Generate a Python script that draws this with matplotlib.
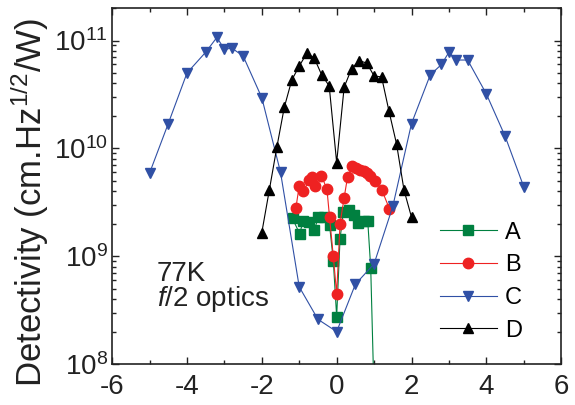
import matplotlib
matplotlib.use("Agg")
import matplotlib.pyplot as plt
from matplotlib.ticker import LogLocator, MultipleLocator, NullFormatter

plt.rcParams["font.family"] = ["Liberation Sans", "DejaVu Sans"]
plt.rcParams["mathtext.fontset"] = "custom"
plt.rcParams["mathtext.rm"] = "Liberation Sans"
plt.rcParams["mathtext.it"] = "Liberation Sans:italic"
plt.rcParams["axes.unicode_minus"] = False

# bias (V) vs detectivity
a_x = [-1.18, -0.99, -0.89, -0.75, -0.6, -0.49, -0.35, -0.19, -0.09, 0.0,
       0.09, 0.18, 0.32, 0.45, 0.58, 0.72, 0.83, 0.91, 1.0]
a_y = [2.24e9, 1.62e9, 2.14e9, 2.09e9, 1.74e9, 2.29e9, 2.29e9, 1.95e9, 9.1e8, 2.75e8,
       1.45e9, 2.57e9, 2.69e9, 2.4e9, 2.04e9, 2.14e9, 2.14e9, 7.8e8, 5e7]

b_x = [-1.09, -1.0, -0.89, -0.73, -0.66, -0.57, -0.41, -0.26, -0.19, -0.09, 0.0,
       0.09, 0.2, 0.29, 0.41, 0.52, 0.63, 0.72, 0.82, 0.9, 1.03, 1.21, 1.41]
b_y = [2.8e9, 4.5e9, 4.0e9, 5.1e9, 5.4e9, 4.5e9, 5.6e9, 4.2e9, 2.3e9, 1.0e9, 4.5e8,
       2.0e9, 3.5e9, 5.4e9, 6.8e9, 6.6e9, 6.3e9, 6.2e9, 5.9e9, 5.6e9, 5.0e9, 4.1e9, 2.75e9]

c_x = [-5.0, -4.5, -4.0, -3.5, -3.2, -3.0, -2.8, -2.5, -2.0, -1.5, -1.0, -0.5, 0.0,
       0.5, 1.0, 1.5, 2.0, 2.5, 2.8, 3.0, 3.2, 3.5, 4.0, 4.5, 5.0]
c_y = [5.9e9, 1.7e10, 5.0e10, 7.8e10, 1.07e11, 8.3e10, 8.5e10, 7.2e10, 2.95e10, 6.0e9,
       5.2e8, 2.6e8, 2.0e8, 5.5e8, 8.5e8, 2.9e9, 1.7e10, 4.8e10, 6.0e10, 7.8e10,
       6.6e10, 6.6e10, 3.2e10, 1.3e10, 4.4e9]

d_x = [-2.0, -1.8, -1.6, -1.4, -1.2, -1.0, -0.8, -0.6, -0.4, -0.2, 0.0,
       0.2, 0.4, 0.6, 0.8, 1.0, 1.2, 1.4, 1.6, 1.8, 2.0]
d_y = [1.66e9, 4.1e9, 1.02e10, 2.4e10, 4.3e10, 5.8e10, 7.6e10, 6.9e10, 4.8e10, 3.8e10, 7.4e9,
       3.7e10, 5.5e10, 6.5e10, 6.2e10, 4.7e10, 4.6e10, 2.2e10, 1.1e10, 4.1e9, 2.3e9]


def main() -> None:
    fig = plt.figure(figsize=(5.75, 4.05), dpi=100)
    ax = fig.add_axes([0.195, 0.101, 0.781, 0.879])

    lw = 0.8
    ax.plot(a_x, a_y, color="#008040", marker="s", ms=6.5, lw=lw, label="A")
    ax.plot(b_x, b_y, color="#ee2222", marker="o", ms=7.5, lw=lw, label="B")
    ax.plot(c_x, c_y, color="#3050a5", marker="v", ms=7, lw=lw, label="C")
    ax.plot(d_x, d_y, color="black", marker="^", ms=7, lw=lw, label="D")

    ax.set_yscale("log")
    ax.set_xlim(-6, 6)
    ax.set_ylim(1e8, 2e11)
    ax.xaxis.set_major_locator(MultipleLocator(2))
    ax.xaxis.set_minor_locator(MultipleLocator(1))
    ax.yaxis.set_major_locator(LogLocator(base=10, numticks=10))
    ax.yaxis.set_minor_locator(LogLocator(base=10, subs=range(2, 10), numticks=10))
    ax.yaxis.set_minor_formatter(NullFormatter())

    ax.tick_params(which="both", direction="in", top=True, right=True, width=1.0,
                   labelsize=20, colors="#222222")
    ax.tick_params(which="major", length=5)
    ax.tick_params(which="minor", length=3)
    ax.tick_params(axis="x", pad=7)
    ax.tick_params(axis="y", pad=3)
    for sp in ax.spines.values():
        sp.set_linewidth(1.2)
        sp.set_color("#222222")

    ax.set_ylabel(r"Detectivity (cm.Hz$^{1/2}$/W)", fontsize=25, color="#222222")
    ax.yaxis.set_label_coords(-0.135, 0.455)

    # two lines in one text so the tight line spacing of the original is kept
    ax.text(0.10, 0.163, "77K\n" + r"$\mathit{f}$/2 optics", transform=ax.transAxes,
            fontsize=20, va="baseline", ha="left", linespacing=0.85, color="#222222")

    ax.legend(loc="upper left", bbox_to_anchor=(0.73, 0.40), frameon=False, fontsize=17,
              handlelength=2.4, handletextpad=0.35, labelspacing=0.45, borderpad=0,
              borderaxespad=0)

    fig.savefig("out.png", dpi=100)
    plt.close(fig)


if __name__ == "__main__":
    main()
